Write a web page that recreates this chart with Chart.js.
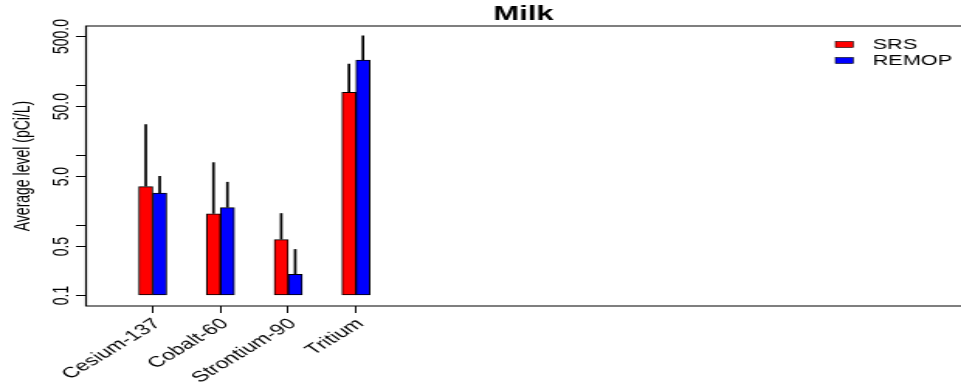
<!DOCTYPE html>
<html>
<head>
<meta charset="utf-8">
<title>Milk</title>
<script src="https://cdn.jsdelivr.net/npm/chart.js@4.4.1/dist/chart.umd.min.js"></script>
<style>
  html, body { margin: 0; padding: 0; background: #fff; overflow: hidden; }
  /* the source figure is stretched sideways, so the canvas is too */
  #wrap { width: 620px; height: 391px; transform: scaleX(1.55); transform-origin: 0 0; }
</style>
</head>
<body>
<div id="wrap"><canvas id="milkChart" width="620" height="391"></canvas></div>
<script>
const categories = ["Cesium-137", "Cobalt-60", "Strontium-90", "Tritium"];
const srsMean = [3.6, 1.47, 0.63, 80];
const srsUpper = [28, 8.0, 1.5, 205];
const remopMean = [2.9, 1.8, 0.2, 230];
const remopUpper = [5.1, 4.2, 0.46, 520];
const yTickValues = [0.1, 0.5, 1, 5, 10, 50, 100, 500];
const yTickLabels = ["0.1", "0.5", "", "5.0", "", "50.0", "", "500.0"];

Chart.defaults.font.family = "'Liberation Sans', Arial, sans-serif";
Chart.defaults.color = "#000";

const toPoints = (vals) => vals.map((v, i) => ({ x: i + 1, y: v }));

const errorBars = {
  id: "errorBars",
  afterDatasetsDraw(chart) {
    const ctx = chart.ctx;
    const yScale = chart.scales.y;
    ctx.save();
    ctx.strokeStyle = "#000";
    ctx.lineWidth = 1.7;
    chart.data.datasets.forEach((ds, i) => {
      chart.getDatasetMeta(i).data.forEach((bar, j) => {
        ctx.beginPath();
        ctx.moveTo(bar.x, bar.y);
        ctx.lineTo(bar.x, yScale.getPixelForValue(ds.upper[j]));
        ctx.stroke();
      });
    });
    ctx.restore();
  }
};

// R style box: top, left and bottom (right side runs off the figure)
const plotBox = {
  id: "plotBox",
  afterDraw(chart) {
    const { left, top, right, bottom } = chart.chartArea;
    const ctx = chart.ctx;
    ctx.save();
    ctx.strokeStyle = "#000";
    ctx.lineWidth = 1.2;
    ctx.beginPath();
    ctx.moveTo(right, top);
    ctx.lineTo(left, top);
    ctx.lineTo(left, bottom);
    ctx.lineTo(right, bottom);
    ctx.stroke();
    ctx.restore();
  }
};

const boxLegend = {
  id: "boxLegend",
  afterDraw(chart) {
    const ctx = chart.ctx;
    ctx.save();
    ctx.font = "14px 'Liberation Sans', Arial, sans-serif";
    ctx.textBaseline = "middle";
    chart.data.datasets.forEach((ds, i) => {
      const y = 44.5 + i * 16;
      ctx.fillStyle = ds.backgroundColor;
      ctx.fillRect(539, y - 3, 11.5, 6);
      ctx.strokeStyle = "#000";
      ctx.lineWidth = 0.6;
      ctx.strokeRect(539, y - 3, 11.5, 6);
      ctx.fillStyle = "#000";
      ctx.fillText(ds.label, 563, y + 0.5);
    });
    ctx.restore();
  }
};

new Chart(document.getElementById("milkChart"), {
  type: "bar",
  data: {
    datasets: [
      { label: "SRS", data: toPoints(srsMean), upper: srsUpper, backgroundColor: "#ff0000" },
      { label: "REMOP", data: toPoints(remopMean), upper: remopUpper, backgroundColor: "#0000ff" }
    ]
  },
  options: {
    responsive: false,
    animation: false,
    layout: { padding: 0 },
    datasets: {
      bar: { base: 0.1, barThickness: 9, borderColor: "#000", borderWidth: 1, borderSkipped: false }
    },
    plugins: {
      legend: { display: false },
      tooltip: { enabled: false },
      title: {
        display: true,
        text: "Milk",
        fullSize: false,
        font: { size: 20, weight: "bold", lineHeight: 1 },
        padding: { top: 4, bottom: 2 },
        color: "#000"
      }
    },
    scales: {
      x: {
        type: "linear",
        min: 0.016,
        max: 12.93,
        bounds: "data",
        offset: false,
        afterBuildTicks: (s) => { s.ticks = categories.map((c, i) => ({ value: i + 1 })); },
        afterFit: (s) => { s.height = 85; },
        ticks: {
          callback: (v, i) => categories[i],
          minRotation: 43,
          maxRotation: 43,
          autoSkip: false,
          padding: 2,
          labelOffset: 3,
          font: { size: 15 }
        },
        grid: { display: true, offset: false, drawOnChartArea: false, drawTicks: true, tickLength: 7, color: "#000" },
        border: { display: false }
      },
      y: {
        type: "logarithmic",
        min: 0.0708,
        max: 708,
        bounds: "data",
        afterBuildTicks: (s) => { s.ticks = yTickValues.map((v) => ({ value: v })); },
        afterFit: (s) => { s.width = 55.5; },
        ticks: {
          callback: (v, i) => yTickLabels[i],
          minRotation: 90,
          maxRotation: 90,
          crossAlign: "center",
          autoSkip: false,
          padding: -9,
          font: { size: 14 }
        },
        grid: { display: true, drawOnChartArea: false, drawTicks: true, tickLength: 6.5, color: "#000" },
        border: { display: false },
        title: {
          display: true,
          text: "Average level (pCi/L)",
          font: { size: 14 },
          padding: { top: 6.5, bottom: 0 }
        }
      }
    }
  },
  plugins: [errorBars, plotBox, boxLegend]
});
</script>
</body>
</html>
